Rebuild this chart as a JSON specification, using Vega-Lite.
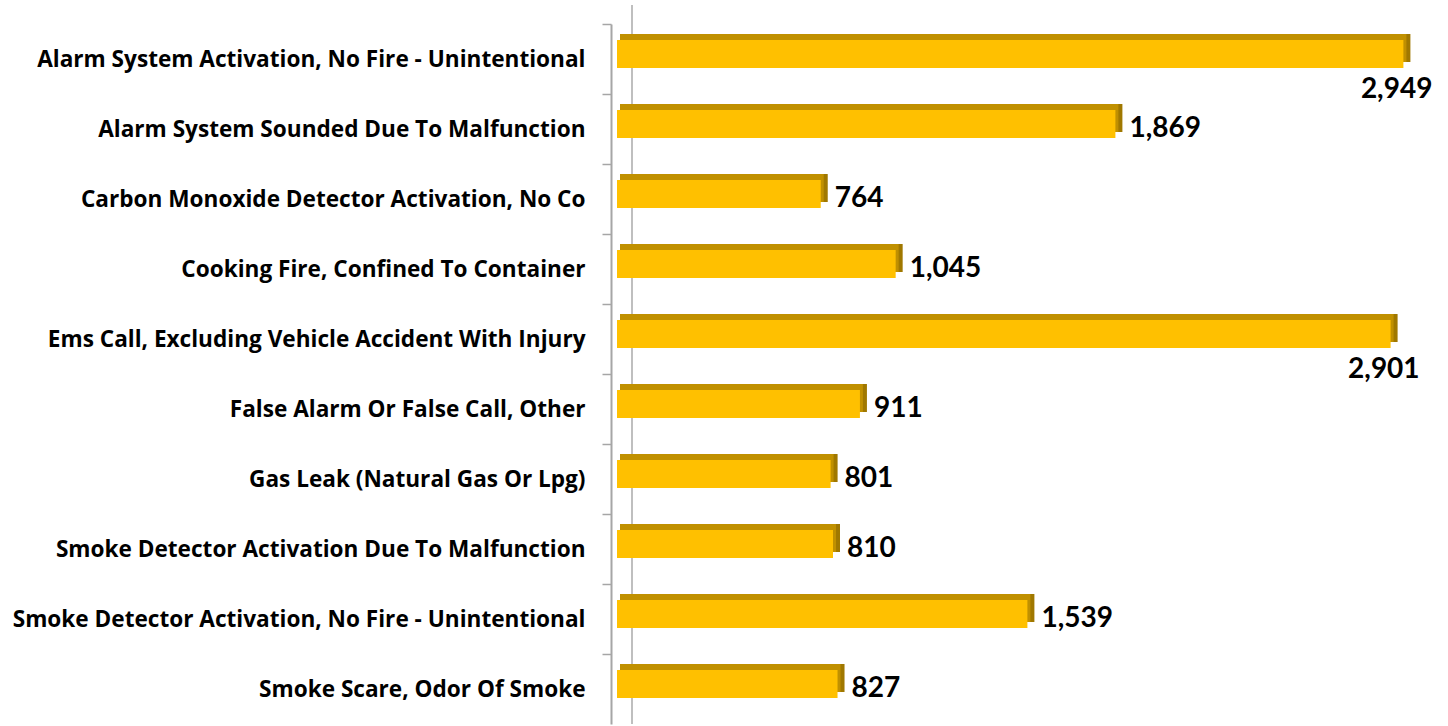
{
  "$schema": "https://vega.github.io/schema/vega-lite/v6.json",
  "width": 800,
  "height": 700,
  "autosize": "none",
  "padding": {"left": 611, "top": 24, "right": 37, "bottom": 2},
  "background": "white",
  "config": {"view": {"stroke": null}, "font": "Lato"},
  "data": {"values": [
    {"type": "Alarm System Activation, No Fire - Unintentional", "count": 2949},
    {"type": "Alarm System Sounded Due To Malfunction", "count": 1869},
    {"type": "Carbon Monoxide Detector Activation, No Co", "count": 764},
    {"type": "Cooking Fire, Confined To Container", "count": 1045},
    {"type": "Ems Call, Excluding Vehicle Accident With Injury", "count": 2901},
    {"type": "False Alarm Or False Call, Other", "count": 911},
    {"type": "Gas Leak (Natural Gas Or Lpg)", "count": 801},
    {"type": "Smoke Detector Activation Due To Malfunction", "count": 810},
    {"type": "Smoke Detector Activation, No Fire - Unintentional", "count": 1539},
    {"type": "Smoke Scare, Odor Of Smoke", "count": 827}
  ]},
  "layer": [
    {
      "mark": {"type": "rule", "color": "#BFBFBF", "strokeWidth": 2, "xOffset": 21, "yOffset": -19},
      "encoding": {"x": {"datum": 0, "type": "quantitative", "scale": {"domain": [0, 3000]}, "axis": null}}
    },
    {
      "mark": {"type": "bar", "color": "#A07800", "xOffset": 13, "yOffset": -11},
      "encoding": {
        "x": {"field": "count", "type": "quantitative"},
        "y": {
          "field": "type", "type": "nominal", "sort": null,
          "scale": {"paddingInner": 0.6, "paddingOuter": 0.3},
          "axis": {
            "title": null, "labelFont": "Open Sans", "labelFontWeight": "bold", "labelFontSize": 22.6,
            "labelColor": "#000000", "labelPadding": 17, "labelLimit": 700,
            "domainColor": "#A6A6A6", "domainWidth": 2, "tickColor": "#A6A6A6", "tickWidth": 1.5, "tickSize": 9,
            "tickOffset": -35, "labelOffset": 35
          }
        }
      }
    },
    {
      "mark": {"type": "bar", "color": "#C09000", "xOffset": 9, "yOffset": -11},
      "encoding": {
        "x": {"field": "count", "type": "quantitative"},
        "y": {"field": "type", "type": "nominal", "sort": null}
      }
    },
    {
      "mark": {"type": "bar", "color": "#FFC000", "xOffset": 6, "yOffset": -5},
      "encoding": {
        "x": {"field": "count", "type": "quantitative"},
        "y": {"field": "type", "type": "nominal", "sort": null}
      }
    },
    {
      "transform": [{"filter": "datum.count < 2500"}],
      "mark": {"type": "text", "align": "left", "baseline": "middle", "dx": 20, "font": "Lato", "fontWeight": "bold", "fontSize": 28, "color": "#000000"},
      "encoding": {
        "x": {"field": "count", "type": "quantitative"},
        "y": {"field": "type", "type": "nominal", "sort": null},
        "text": {"field": "count", "type": "quantitative", "format": ","}
      }
    },
    {
      "transform": [{"filter": "datum.count >= 2500"}],
      "mark": {"type": "text", "align": "right", "baseline": "middle", "dx": 35, "dy": 31, "font": "Lato", "fontWeight": "bold", "fontSize": 28, "color": "#000000"},
      "encoding": {
        "x": {"field": "count", "type": "quantitative"},
        "y": {"field": "type", "type": "nominal", "sort": null},
        "text": {"field": "count", "type": "quantitative", "format": ","}
      }
    }
  ]
}
